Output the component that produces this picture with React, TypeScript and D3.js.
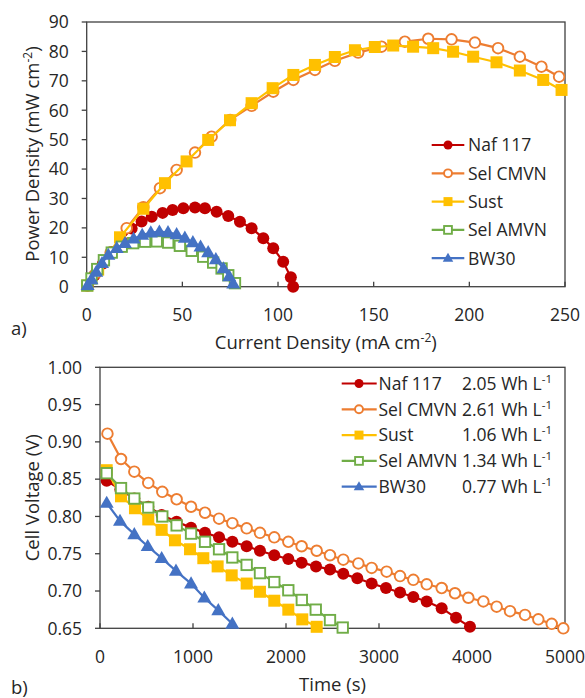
import React from "react";
import * as d3 from "d3";

// ---------- data: panel a (power density vs current density) ----------
const nafC = [0.5, 4, 8.5, 13, 18, 23.5, 28.7, 34, 39.7, 44.9, 50.5, 56.6, 61.8, 67.9, 74, 80.1, 86.2, 92.3, 97.5, 102.7, 106.7, 107.9];
const nafP = [0.4, 3.8, 7.9, 11.8, 15.8, 19.8, 22.2, 23.8, 25.1, 26.1, 26.7, 26.9, 26.7, 25.5, 24, 22.1, 19.9, 16.5, 13.1, 8.5, 3.2, 0];
const cmvnC = [0.3, 5, 12.5, 20.9, 29.6, 38.3, 47, 56.6, 65.3, 75, 86.2, 97.5, 108, 119.3, 129.7, 141.9, 154.1, 166.3, 178.5, 190.7, 202.9, 215, 226.4, 237.7, 246.9];
const cmvnP = [0.4, 4.7, 11.6, 19.9, 27, 33.5, 39.7, 45.6, 51, 56.7, 61.5, 66.3, 70.3, 73.7, 76.8, 79.6, 81.6, 83.3, 84.3, 84.1, 83, 81.1, 78.2, 74.8, 71.4];
const sustC = [0.3, 6, 17.4, 29.6, 40.9, 52.2, 63.5, 74.9, 86.2, 97.2, 108, 119.3, 129.7, 140.2, 150.6, 160.2, 170.6, 181.1, 191.5, 202, 214.2, 226.4, 238.6, 248.2];
const sustP = [0.4, 5.8, 16.8, 26.5, 35.2, 42.6, 49.9, 56.6, 62.4, 67.5, 72, 75.4, 78.1, 80.4, 81.5, 82, 81.6, 81.1, 79.9, 78.2, 76.3, 73.5, 70.3, 66.9];
const amvnC = [0.3, 2.5, 5.5, 9, 13.1, 18.3, 24.3, 30.5, 36.6, 42.6, 48.7, 54.9, 60.9, 66.1, 70.5, 74, 77.5];
const amvnP = [0.4, 2.8, 6, 9, 11.6, 13.6, 14.8, 15.3, 15.4, 15, 13.9, 12.2, 10.2, 8.2, 6.2, 3.9, 1.2];
const bwC = [0.5, 2.5, 5, 8, 11.3, 15.7, 20, 24.5, 29, 33.5, 38, 42.5, 47, 51.3, 55.5, 59.5, 63.5, 67.5, 71.5, 74.5, 76.6];
const bwP = [0.5, 2.5, 5, 8, 10.8, 13.1, 14.8, 16.3, 17.6, 18.4, 18.7, 18.5, 17.8, 16.6, 15.1, 13.6, 11.7, 9.3, 6.2, 3.5, 1];

// ---------- data: panel b (cell voltage vs time) ----------
const nafT = [72, 219, 369, 519, 663, 824, 979, 1129, 1280, 1423, 1577, 1720, 1874, 2025, 2168, 2323, 2473, 2616, 2767, 2921, 3075, 3226, 3369, 3513, 3674, 3828, 3978];
const nafV = [0.848, 0.836, 0.824, 0.813, 0.802, 0.793, 0.785, 0.778, 0.772, 0.766, 0.760, 0.754, 0.748, 0.743, 0.738, 0.733, 0.729, 0.723, 0.717, 0.710, 0.704, 0.698, 0.692, 0.686, 0.677, 0.664, 0.652];
const cmvnT = [80, 226, 369, 519, 670, 824, 979, 1129, 1280, 1423, 1577, 1720, 1874, 2025, 2168, 2330, 2473, 2616, 2778, 2921, 3082, 3226, 3369, 3513, 3674, 3817, 3961, 4122, 4265, 4409, 4570, 4713, 4857, 4982];
const cmvnV = [0.911, 0.877, 0.860, 0.845, 0.833, 0.823, 0.813, 0.805, 0.797, 0.791, 0.784, 0.778, 0.772, 0.766, 0.760, 0.754, 0.748, 0.742, 0.737, 0.731, 0.726, 0.720, 0.715, 0.709, 0.704, 0.697, 0.691, 0.686, 0.679, 0.673, 0.668, 0.662, 0.656, 0.650];
const sustT = [72, 226, 376, 519, 663, 806, 968, 1111, 1265, 1416, 1577, 1720, 1874, 2025, 2175, 2330];
const sustV = [0.862, 0.827, 0.811, 0.796, 0.782, 0.768, 0.756, 0.744, 0.733, 0.721, 0.710, 0.699, 0.687, 0.675, 0.662, 0.652];
const amvnT = [72, 226, 369, 519, 670, 824, 979, 1129, 1280, 1423, 1577, 1720, 1874, 2025, 2170, 2320, 2473, 2610];
const amvnV = [0.858, 0.838, 0.824, 0.812, 0.800, 0.788, 0.777, 0.766, 0.756, 0.745, 0.735, 0.724, 0.712, 0.701, 0.688, 0.675, 0.661, 0.651];
const bwT = [72, 215, 369, 513, 663, 817, 979, 1122, 1272, 1423];
const bwV = [0.818, 0.794, 0.776, 0.760, 0.744, 0.727, 0.710, 0.691, 0.674, 0.656];

const seriesNames = ["Naf 117", "Sel CMVN", "Sust", "Sel AMVN", "BW30"];
const energyLabels = ["2.05 Wh L", "2.61 Wh L", "1.06 Wh L", "1.34 Wh L", "0.77 Wh L"];
const xTicksA = [0, 50, 100, 150, 200, 250];
const yTicksA = [0, 10, 20, 30, 40, 50, 60, 70, 80, 90];
const xTicksB = [0, 1000, 2000, 3000, 4000, 5000];
const yTicksB = [0.65, 0.7, 0.75, 0.8, 0.85, 0.9, 0.95, 1.0];

const colors = ["#C00000", "#ED7D31", "#FFC000", "#70AD47", "#4472C4"];
const kinds = ["circleFill", "circleOpen", "squareFill", "squareOpen", "triangle"];

const FONT = "'Segoe UI', 'Open Sans', 'Noto Sans', sans-serif";
const TXT = "#262626";
const AX = "#404040";
const FS = 17.5;
const FT = 18.5;

function Marker({ kind, color, x, y, s = 1 }: { kind: string; color: string; x: number; y: number; s?: number }) {
  if (kind === "circleFill") return <circle cx={x} cy={y} r={6 * s} fill={color} />;
  if (kind === "circleOpen") return <circle cx={x} cy={y} r={5.3 * s} fill="#fff" stroke={color} strokeWidth={1.9} />;
  if (kind === "squareFill") { const h = 6 * s; return <rect x={x - h} y={y - h} width={2 * h} height={2 * h} fill={color} />; }
  if (kind === "squareOpen") { const h = 5.2 * s; return <rect x={x - h} y={y - h} width={2 * h} height={2 * h} fill="#fff" stroke={color} strokeWidth={1.9} />; }
  const p = d3.symbol().type(d3.symbolTriangle).size(85 * s * s)();
  return <path d={p || ""} transform={`translate(${x},${y + 0.8 * s})`} fill={color} />;
}

function Panel({ xs, ys, xDom, yDom, L, R, T, B, xTicks, yTicks, yFmt }: any) {
  const x = d3.scaleLinear().domain(xDom).range([L, R]);
  const y = d3.scaleLinear().domain(yDom).range([B, T]);
  const line = d3.line<[number, number]>().x((d) => x(d[0])).y((d) => y(d[1]));
  return (
    <g>
      <rect x={L} y={T} width={R - L} height={B - T} fill="none" stroke={AX} strokeWidth={1.3} />
      {xTicks.map((t: number) => (
        <g key={"xt" + t}>
          <line x1={x(t)} x2={x(t)} y1={B} y2={B - 5} stroke={AX} strokeWidth={1.3} />
          <text x={x(t)} y={B + 34.5} textAnchor="middle" fontSize={FS} fill={TXT}>{t}</text>
        </g>
      ))}
      {yTicks.map((t: number) => (
        <g key={"yt" + t}>
          <line x1={L - 5} x2={L} y1={y(t)} y2={y(t)} stroke={AX} strokeWidth={1.3} />
          <text x={L - 18} y={y(t) + 6.3} textAnchor="end" fontSize={FS} fill={TXT}>{yFmt(t)}</text>
        </g>
      ))}
      {xs.map((xa: number[], i: number) => {
        const pts: [number, number][] = xa.map((v, j) => [v, ys[i][j]]);
        return (
          <g key={"s" + i}>
            <path d={line(pts) || ""} fill="none" stroke={colors[i]} strokeWidth={2.2} />
            {pts.map((p, j) => (
              <Marker key={j} kind={kinds[i]} color={colors[i]} x={x(p[0])} y={y(p[1])} />
            ))}
          </g>
        );
      })}
    </g>
  );
}

export default function App() {
  const legA = seriesNames.map((n, i) => ({ n, i, y: 145 + i * 28.3 }));
  const legB = seriesNames.map((n, i) => ({ n, i, y: 383.5 + i * 25.8 }));
  return (
    <svg width={585} height={698} style={{ position: "absolute", left: 0, top: 0, fontFamily: FONT }}>
      <rect width={585} height={698} fill="#fff" />
      <Panel
        xs={[nafC, cmvnC, sustC, amvnC, bwC]}
        ys={[nafP, cmvnP, sustP, amvnP, bwP]}
        xDom={[0, 250]} yDom={[0, 90]}
        L={86.7} R={565} T={22} B={286.7}
        xTicks={xTicksA} yTicks={yTicksA} yFmt={(t: number) => String(t)}
      />
      {legA.map((l) => (
        <g key={"la" + l.i}>
          <line x1={431.7} x2={464.3} y1={l.y} y2={l.y} stroke={colors[l.i]} strokeWidth={2.2} />
          <Marker kind={kinds[l.i]} color={colors[l.i]} x={448} y={l.y} s={0.75} />
          <text x={468} y={l.y + 6.3} fontSize={FS} fill={TXT}>{l.n}</text>
        </g>
      ))}
      <text x={325.8} y={349} textAnchor="middle" fontSize={FT} fill={TXT}>
        Current Density (mA cm<tspan dy={-7} fontSize={12}>-2</tspan><tspan dy={7}>)</tspan>
      </text>
      <text transform="translate(38.5,154) rotate(-90)" textAnchor="middle" fontSize={FT} fill={TXT}>
        Power Density (mW cm<tspan dy={-7} fontSize={12}>-2</tspan><tspan dy={7}>)</tspan>
      </text>
      <text x={11} y={335} fontSize={FT} fill={TXT}>a)</text>

      <Panel
        xs={[nafT, cmvnT, sustT, amvnT, bwT]}
        ys={[nafV, cmvnV, sustV, amvnV, bwV]}
        xDom={[0, 5000]} yDom={[0.65, 1.0]}
        L={100} R={565} T={367.3} B={628.3}
        xTicks={xTicksB} yTicks={yTicksB} yFmt={d3.format(".2f")}
      />
      {legB.map((l) => (
        <g key={"lb" + l.i}>
          <line x1={341.7} x2={376.7} y1={l.y} y2={l.y} stroke={colors[l.i]} strokeWidth={2.2} />
          <Marker kind={kinds[l.i]} color={colors[l.i]} x={359} y={l.y} s={0.75} />
          <text x={378.5} y={l.y + 6.3} fontSize={FS} fill={TXT}>{l.n}</text>
          <text x={462} y={l.y + 6.3} fontSize={FS} fill={TXT}>
            {energyLabels[l.i]}<tspan dy={-7} fontSize={11.5}>-1</tspan>
          </text>
        </g>
      ))}
      <text x={332.5} y={691} textAnchor="middle" fontSize={FT} fill={TXT}>Time (s)</text>
      <text transform="translate(38.5,497.8) rotate(-90)" textAnchor="middle" fontSize={FT} fill={TXT}>Cell Voltage (V)</text>
      <text x={11} y={694} fontSize={FT} fill={TXT}>b)</text>
    </svg>
  );
}
